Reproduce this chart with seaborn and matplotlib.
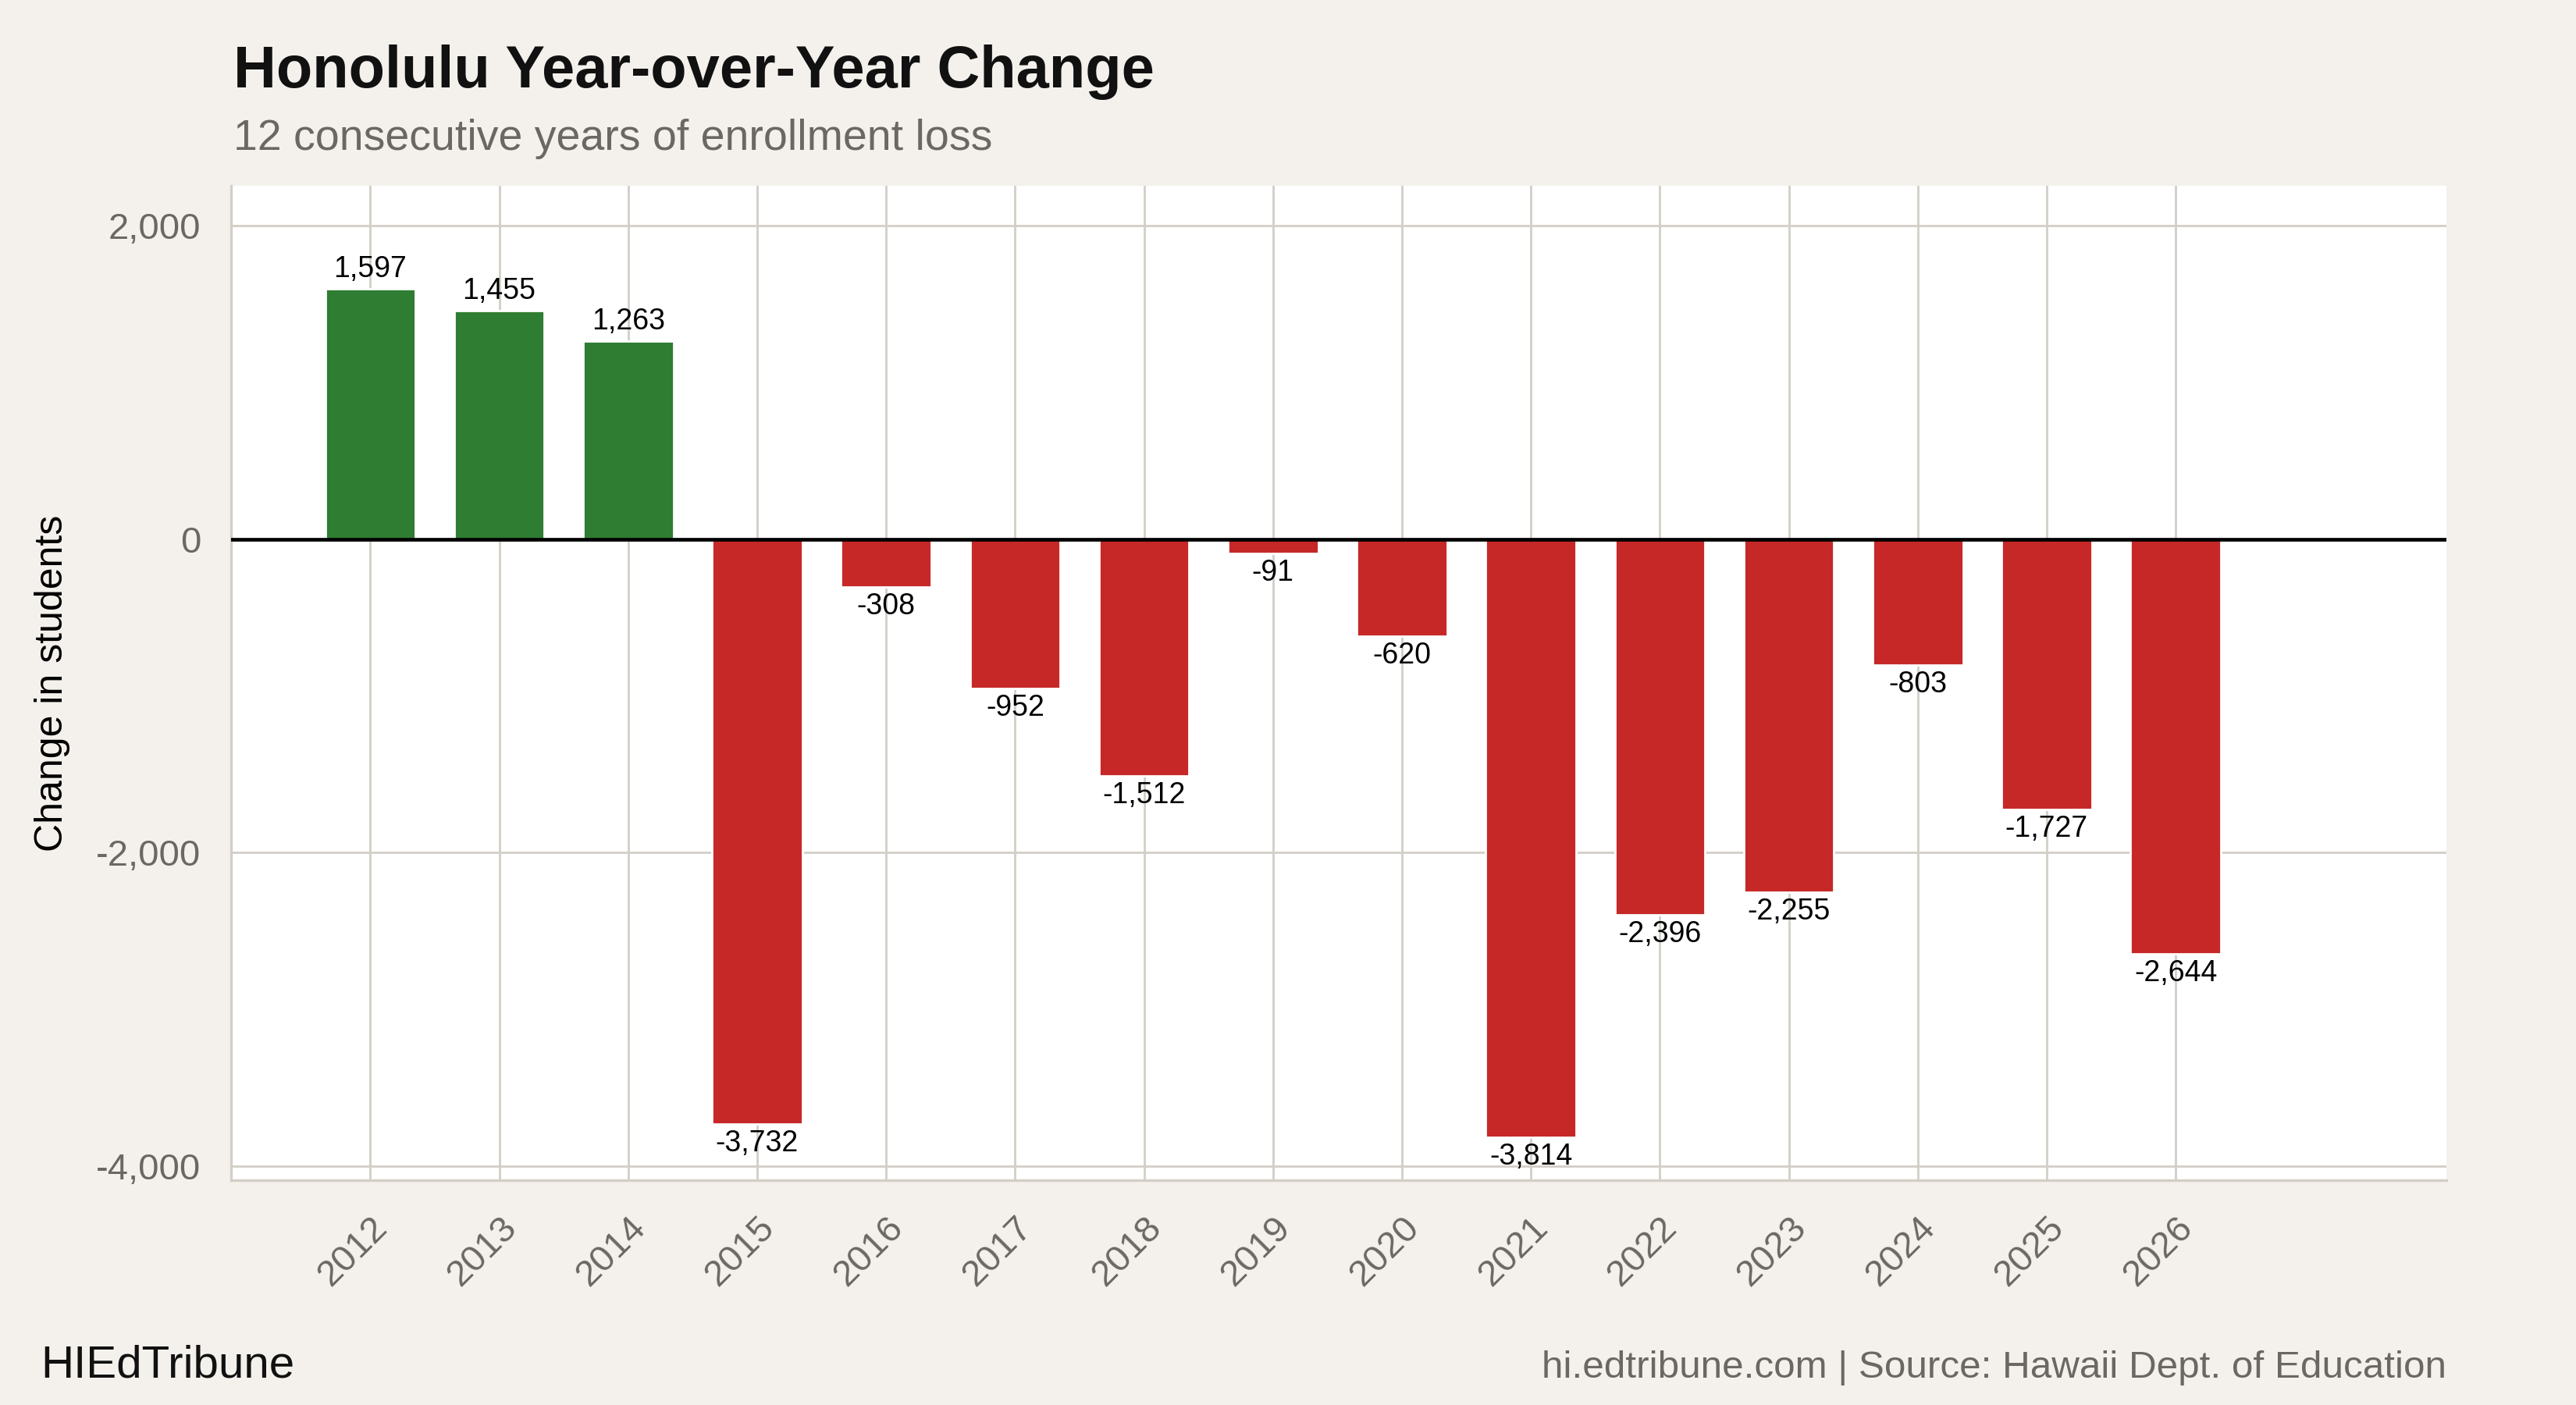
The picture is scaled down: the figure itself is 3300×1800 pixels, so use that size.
import numpy as np
import pandas as pd
import matplotlib
matplotlib.use("Agg")
import matplotlib.pyplot as plt
import matplotlib.ticker as mticker
import seaborn as sns

# data
years = ["2012", "2013", "2014", "2015", "2016", "2017", "2018", "2019",
         "2020", "2021", "2022", "2023", "2024", "2025", "2026"]
change = [1597, 1455, 1263, -3732, -308, -952, -1512, -91,
          -620, -3814, -2396, -2255, -803, -1727, -2644]
y_ticks = [-4000, -2000, 0, 2000]

GREEN = "#2e7d32"
RED = "#c62828"
BG = "#f4f1ec"
GRID = "#d3cec6"
GREY_TXT = "#6b6762"

df = pd.DataFrame({"year": years, "change": change})
bar_colors = [GREEN if v >= 0 else RED for v in change]

sns.set_theme(style="whitegrid")
plt.rcParams["font.family"] = ["Liberation Sans", "DejaVu Sans"]

fig = plt.figure(figsize=(16.5, 9), dpi=200, facecolor=BG)
ax = fig.add_axes([0.0897, 0.16, 0.86, 0.7078])
ax.set_facecolor("white")

sns.barplot(data=df, x="year", y="change", hue="year", palette=bar_colors,
            legend=False, width=0.7, saturation=1, order=years, ax=ax)

# value labels
for cont, v in zip(ax.containers, change):
    ax.bar_label(cont, labels=[f"{v:,}"], padding=2.5, fontsize=13.5, color="black")

ax.axhline(0, color="black", lw=1.7, zorder=3)

ax.set_xlim(-1.08, 16.1)
ax.set_ylim(-4090, 2254)
ax.set_yticks(y_ticks)
ax.yaxis.set_major_formatter(mticker.FuncFormatter(lambda v, p: f"{int(v):,}"))

ax.grid(True, color=GRID, lw=1.0)
ax.set_axisbelow(True)
for s in ["top", "right"]:
    ax.spines[s].set_visible(False)
for s in ["left", "bottom"]:
    ax.spines[s].set_visible(True)
    ax.spines[s].set_color(GRID)
    ax.spines[s].set_linewidth(1.2)

ax.tick_params(axis="both", which="major", length=5, width=0.9, color=GRID,
               labelsize=17, labelcolor=GREY_TXT, pad=9)
plt.setp(ax.get_xticklabels(), rotation=45, ha="right", rotation_mode="anchor")

ax.set_xlabel("")
ax.set_ylabel("Change in students", fontsize=18, color="black", labelpad=12)

fig.text(0.0906, 0.9378, "Honolulu Year-over-Year Change", fontsize=27.3,
         fontweight="bold", color="#111111", va="baseline", ha="left")
fig.text(0.0906, 0.8933, "12 consecutive years of enrollment loss", fontsize=20,
         color=GREY_TXT, va="baseline", ha="left")
fig.text(0.0158, 0.0195, "HIEdTribune", fontsize=21, color="#111111",
         va="baseline", ha="left")
fig.text(0.9497, 0.0195, "hi.edtribune.com | Source: Hawaii Dept. of Education",
         fontsize=17.8, color=GREY_TXT, va="baseline", ha="right")

fig.savefig("out.png", dpi=200, facecolor=BG)
